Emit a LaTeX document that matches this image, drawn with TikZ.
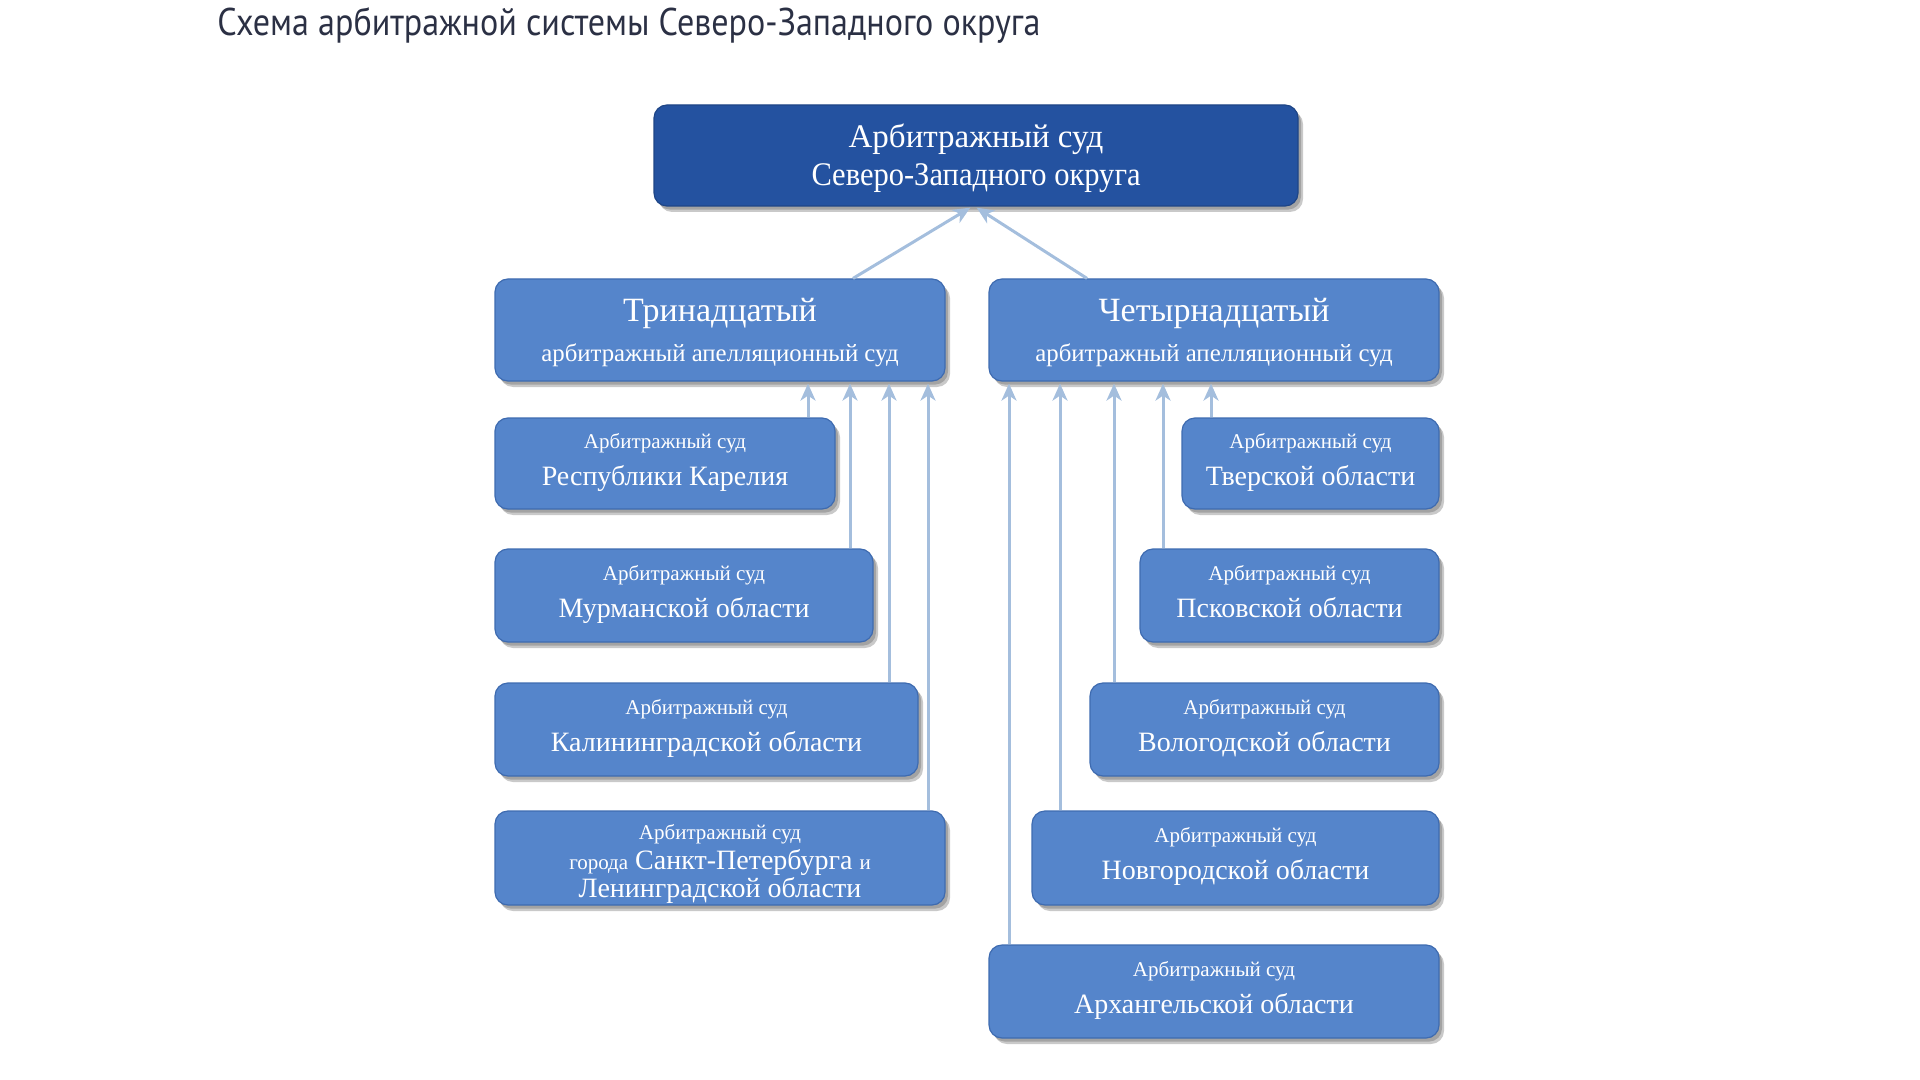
\documentclass[tikz,border=0pt]{standalone}
\usepackage{graphicx}
\usepackage{fontspec}
\setmainfont{Liberation Serif}
\newfontfamily\titlefont{PT Sans}
\usetikzlibrary{shadows,arrows.meta,calc}
\definecolor{topfill}{HTML}{2452A0}
\definecolor{topdraw}{HTML}{1E4586}
\definecolor{boxfill}{HTML}{5585CB}
\definecolor{boxdraw}{HTML}{3E6BB0}
\definecolor{connc}{HTML}{A4BEDD}
\definecolor{titlec}{HTML}{2B3044}
\newcommand{\fsmall}{\fontsize{10.5}{12}\selectfont}
\newcommand{\fbig}{\fontsize{14}{16}\selectfont}
\newcommand{\lastl}{\rule[-4.3pt]{0pt}{1pt}}
\begin{document}
\begin{tikzpicture}[x=0.5pt,y=-0.5pt,
  shad/.style={drop shadow={shadow xshift=2.5pt,shadow yshift=-3pt,opacity=0.30,fill=black!70},
               drop shadow={shadow xshift=1.5pt,shadow yshift=-1.8pt,opacity=0.30,fill=black!70}},
  basebox/.style={rectangle, rounded corners=6.5pt, line width=0.6pt, text=white, align=center, inner sep=0pt, shad},
  topbox/.style={basebox, fill=topfill, draw=topdraw, font=\fontsize{16.5}{19}\selectfont},
  midbox/.style={basebox, fill=boxfill, draw=boxdraw, font=\fontsize{17}{20.2}\selectfont},
  courtbox/.style={basebox, fill=boxfill, draw=boxdraw, font=\fontsize{14}{18.7}\selectfont},
  conn/.style={draw=connc, line width=1.5pt, -{Stealth[length=8.5pt,width=7.5pt,inset=2.5pt]}, shorten >=1pt}
]
\useasboundingbox (0,0) rectangle (1920,1080);

\node[anchor=base west, inner sep=0pt, text=titlec, font=\titlefont\fontsize{19.3}{22}\selectfont] (title) at (217,36)
  {\resizebox{411.5pt}{\height}{Схема арбитражной системы Северо-Западного округа}};

\node[topbox, minimum width=322pt, minimum height=50.5pt] (top) at (976,155.5)
  {\rule{0pt}{14.2pt}Арбитражный суд\\\resizebox{164.5pt}{\height}{Северо-Западного округа}};

\node[midbox, minimum width=225pt, minimum height=51pt] (L13) at (720,330)
  {\rule{0pt}{14pt}Тринадцатый\\{\fontsize{12.4}{20.2}\selectfont арбитражный апелляционный суд}};
\node[midbox, minimum width=225pt, minimum height=51pt] (R14) at (1214,330)
  {\rule{0pt}{14pt}Четырнадцатый\\{\fontsize{12.4}{20.2}\selectfont арбитражный апелляционный суд}};

\node[courtbox, minimum width=170pt, minimum height=45.5pt] (kar) at (665,463.5)
  {{\fsmall Арбитражный суд}\\Республики Карелия\lastl};
\node[courtbox, minimum width=189pt, minimum height=46.5pt] (mur) at (684,595.5)
  {{\fsmall Арбитражный суд}\\Мурманской области\lastl};
\node[courtbox, minimum width=211.5pt, minimum height=46.5pt] (kal) at (706.5,729.5)
  {{\fsmall Арбитражный суд}\\Калининградской области\lastl};
\node[courtbox, minimum width=225pt, minimum height=47pt, font=\fontsize{14}{10.3}\selectfont] (spb) at (720,858)
  {{\fsmall\rule{0pt}{13.2pt}Арбитражный суд}\\[1.6pt]{\fsmall города} Санкт-Петербурга {\fsmall и}\\Ленинградской области};

\node[courtbox, minimum width=128.5pt, minimum height=45.5pt] (tve) at (1310.5,463.5)
  {{\fsmall Арбитражный суд}\\Тверской области\lastl};
\node[courtbox, minimum width=149.5pt, minimum height=46.5pt] (psk) at (1289.5,595.5)
  {{\fsmall Арбитражный суд}\\Псковской области\lastl};
\node[courtbox, minimum width=174.5pt, minimum height=46.5pt] (vol) at (1264.5,729.5)
  {{\fsmall Арбитражный суд}\\Вологодской области\lastl};
\node[courtbox, minimum width=203.5pt, minimum height=47pt] (nov) at (1235.5,858)
  {{\fsmall Арбитражный суд}\\Новгородской области\lastl};
\node[courtbox, minimum width=225pt, minimum height=46.5pt] (arh) at (1214,991.5)
  {{\fsmall Арбитражный суд}\\Архангельской области\lastl};

% helper x positions
\coordinate (ta) at (853,0);
\coordinate (tb) at (972,0);
\coordinate (tc) at (1087,0);
\coordinate (td) at (975,0);
\coordinate (l1) at (808,0);
\coordinate (l2) at (850,0);
\coordinate (l3) at (889,0);
\coordinate (l4) at (928,0);
\coordinate (r1) at (1211,0);
\coordinate (r2) at (1163,0);
\coordinate (r3) at (1114,0);
\coordinate (r4) at (1060,0);
\coordinate (r5) at (1009,0);

\draw[conn] (L13.north -| ta) -- (top.south -| tb);
\draw[conn] (R14.north -| tc) -- (top.south -| td);

\draw[conn] (kar.north -| l1) -- (L13.south -| l1);
\draw[conn] (mur.north -| l2) -- (L13.south -| l2);
\draw[conn] (kal.north -| l3) -- (L13.south -| l3);
\draw[conn] (spb.north -| l4) -- (L13.south -| l4);

\draw[conn] (tve.north -| r1) -- (R14.south -| r1);
\draw[conn] (psk.north -| r2) -- (R14.south -| r2);
\draw[conn] (vol.north -| r3) -- (R14.south -| r3);
\draw[conn] (nov.north -| r4) -- (R14.south -| r4);
\draw[conn] (arh.north -| r5) -- (R14.south -| r5);
\end{tikzpicture}
\end{document}
